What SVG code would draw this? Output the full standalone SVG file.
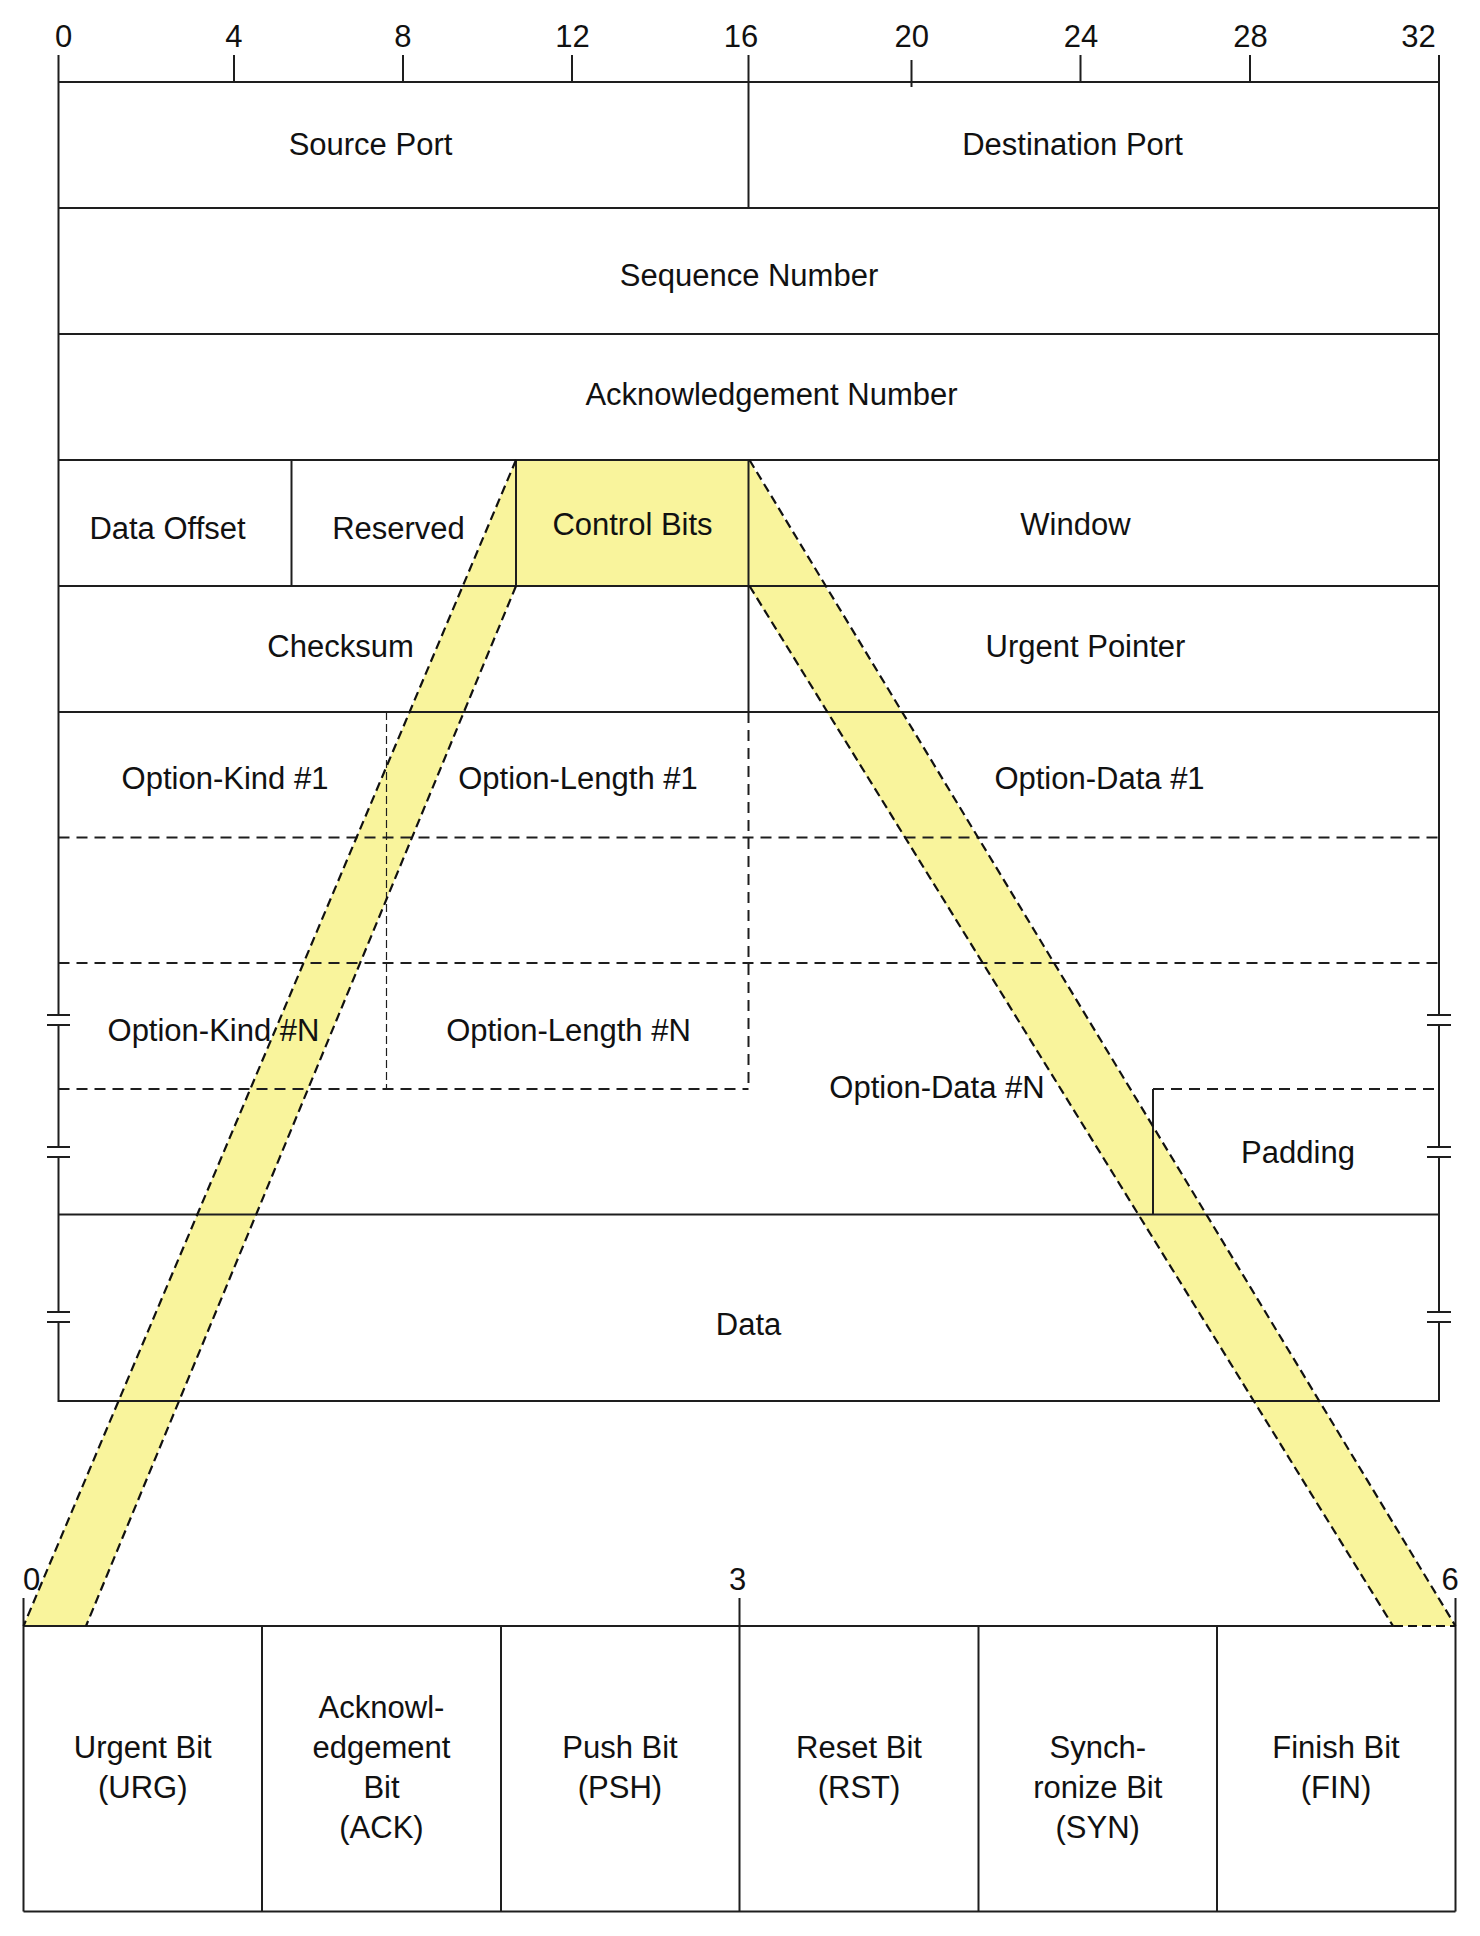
<svg xmlns="http://www.w3.org/2000/svg" width="1480" height="1936" viewBox="0 0 1480 1936">
<style>
  text { font-family: "Liberation Sans", Arial, sans-serif; font-size: 31px; fill: #111; text-anchor: middle; }
  .ln { stroke: #1e1e1e; stroke-width: 2; fill: none; }
  .dash { stroke: #1e1e1e; stroke-width: 2; stroke-dasharray: 11 7; fill: none; }
  .thin { stroke: #1e1e1e; stroke-width: 1.2; stroke-dasharray: 8 4; fill: none; }
  .band { fill: #f9f49c; stroke: none; }
  .bline { stroke: #111; stroke-width: 2.2; stroke-dasharray: 9 5; fill: none; }
</style>
<rect width="1480" height="1936" fill="#ffffff"/>

<!-- yellow highlight areas (under everything) -->
<g id="highlight">
  <rect class="band" x="516" y="460" width="232.5" height="126"/>
  <polygon class="band" points="516,460 516,586 86,1626 23.5,1626"/>
  <polygon class="band" points="748.5,460 1455.5,1626 1393,1626 748.5,586"/>
</g>

<!-- ruler -->
<g id="ruler">
  <text x="63.5" y="47">0</text>
  <text x="233.8" y="47">4</text>
  <text x="402.8" y="47">8</text>
  <text x="572.6" y="47">12</text>
  <text x="741" y="47">16</text>
  <text x="911.7" y="47">20</text>
  <text x="1081" y="47">24</text>
  <text x="1250.6" y="47">28</text>
  <text x="1418.5" y="47">32</text>
  <path class="ln" d="M234,55V82 M403,55V82 M572,55V82 M911.5,60V87 M1080.5,55V82 M1250,55V82"/>
</g>

<!-- header frame -->
<g id="frame">
  <path class="ln" d="M58.5,82H1439 M58.5,208H1439 M58.5,334H1439 M58.5,460H1439 M58.5,586H1439 M58.5,712H1439 M58.5,1214.5H1439 M58.5,1401H1439"/>
  <path class="ln" d="M58.5,55V1015 M58.5,1025V1147 M58.5,1157V1312 M58.5,1322V1402"/>
  <path class="ln" d="M1439,55V1015 M1439,1025V1147 M1439,1157V1312 M1439,1322V1402"/>
  <path class="ln" d="M47,1015H70 M47,1025H70 M47,1147H70 M47,1157H70 M47,1312H70 M47,1322H70"/>
  <path class="ln" d="M1427,1015H1451 M1427,1025H1451 M1427,1147H1451 M1427,1157H1451 M1427,1312H1451 M1427,1322H1451"/>
</g>

<g id="source-port">
  <text x="370.5" y="155">Source Port</text>
</g>
<g id="destination-port">
  <path class="ln" d="M748.5,55V208"/>
  <text x="1072.5" y="155">Destination Port</text>
</g>
<g id="sequence-number">
  <text x="749" y="285.5">Sequence Number</text>
</g>
<g id="acknowledgement-number">
  <text x="771.5" y="404.5">Acknowledgement Number</text>
</g>
<g id="data-offset">
  <text x="167.5" y="539">Data Offset</text>
</g>
<g id="reserved">
  <path class="ln" d="M291.5,460V586"/>
  <text x="398.5" y="539">Reserved</text>
</g>
<g id="control-bits">
  <path class="ln" d="M516,460V586 M748.5,460V586"/>
  <text x="632.5" y="535">Control Bits</text>
</g>
<g id="window">
  <text x="1075.5" y="535">Window</text>
</g>
<g id="checksum">
  <text x="340.5" y="657">Checksum</text>
</g>
<g id="urgent-pointer">
  <path class="ln" d="M748.5,586V712"/>
  <text x="1085.5" y="657">Urgent Pointer</text>
</g>

<g id="options">
  <path class="dash" d="M58.5,837.5H1439 M58.5,963H1439 M58.5,1089H748.5 M1153,1089H1439"/>
  <path class="dash" d="M748.5,712V1089"/>
  <path class="thin" d="M386.5,712V1089"/>
</g>
<g id="option-kind-1"><text x="225" y="789">Option-Kind #1</text></g>
<g id="option-length-1"><text x="578" y="789">Option-Length #1</text></g>
<g id="option-data-1"><text x="1099.5" y="789">Option-Data #1</text></g>
<g id="option-kind-n"><text x="213.5" y="1041">Option-Kind #N</text></g>
<g id="option-length-n"><text x="568.5" y="1041">Option-Length #N</text></g>
<g id="option-data-n"><text x="937" y="1098">Option-Data #N</text></g>
<g id="padding">
  <path class="ln" d="M1153,1089V1214.5"/>
  <text x="1298" y="1163">Padding</text>
</g>
<g id="data">
  <text x="748.5" y="1335">Data</text>
</g>

<!-- control bits detail -->
<g id="bits-ruler">
  <text x="31.5" y="1590">0</text>
  <text x="737.5" y="1590">3</text>
  <text x="1450" y="1590">6</text>
  <path class="ln" d="M23.5,1598V1626 M739.5,1598V1626 M1455.5,1598V1626"/>
</g>
<g id="bits-frame">
  <path class="ln" d="M23.5,1626H1394 M23.5,1911.5H1455.5 M23.5,1626V1911.5 M1455.5,1626V1911.5"/>
  <path class="bline" d="M1394,1626H1455.5"/>
</g>
<g id="urg">
  <text x="142.75" y="1758">Urgent Bit</text>
  <text x="142.75" y="1798">(URG)</text>
</g>
<g id="ack">
  <path class="ln" d="M262,1626V1911.5"/>
  <text x="381.5" y="1718">Acknowl-</text>
  <text x="381.5" y="1758">edgement</text>
  <text x="381.5" y="1798">Bit</text>
  <text x="381.5" y="1838">(ACK)</text>
</g>
<g id="psh">
  <path class="ln" d="M501,1626V1911.5"/>
  <text x="620" y="1758">Push Bit</text>
  <text x="620" y="1798">(PSH)</text>
</g>
<g id="rst">
  <path class="ln" d="M739.5,1626V1911.5"/>
  <text x="859" y="1758">Reset Bit</text>
  <text x="859" y="1798">(RST)</text>
</g>
<g id="syn">
  <path class="ln" d="M978.5,1626V1911.5"/>
  <text x="1097.75" y="1758">Synch-</text>
  <text x="1097.75" y="1798">ronize Bit</text>
  <text x="1097.75" y="1838">(SYN)</text>
</g>
<g id="fin">
  <path class="ln" d="M1217,1626V1911.5"/>
  <text x="1336" y="1758">Finish Bit</text>
  <text x="1336" y="1798">(FIN)</text>
</g>

<!-- projection connectors -->
<g id="connectors">
  <path class="bline" d="M516,460L23.5,1626"/>
  <path class="bline" d="M516,586L86,1626"/>
  <path class="bline" d="M749.5,460L1455.5,1626"/>
  <path class="bline" d="M749.5,586L1393,1626"/>
</g>
</svg>
